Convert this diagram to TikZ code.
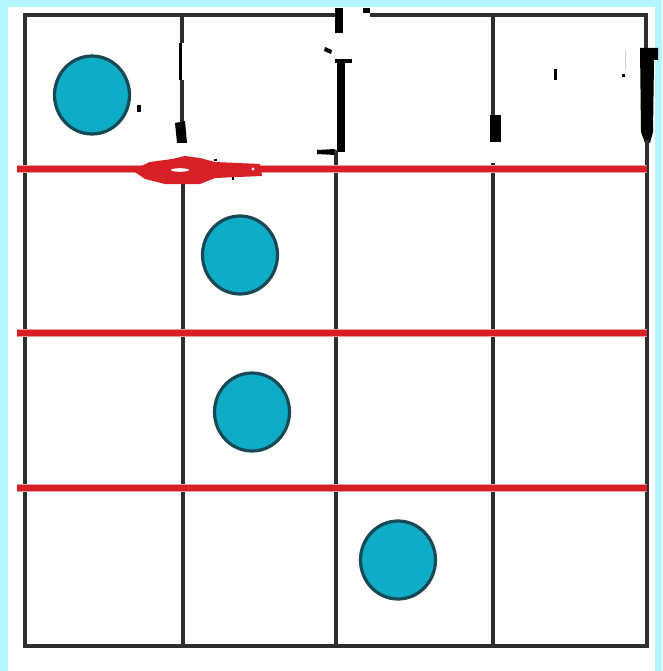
\documentclass[tikz,border=0pt]{standalone}
\usetikzlibrary{shapes.geometric}
\definecolor{cyanbg}{RGB}{180,245,255}
\definecolor{gridc}{RGB}{45,45,45}
\definecolor{redl}{RGB}{215,32,38}
\definecolor{tealfill}{RGB}{15,172,200}
\definecolor{tealedge}{RGB}{22,72,86}
\tikzset{
  gridline/.style={draw=gridc,line width=3.6pt},
  redline/.style={draw=redl,line width=5.5pt},
  redhalo/.style={draw=redl!45,line width=8.5pt},
  ball/.style={ellipse,draw=tealedge,fill=tealfill,line width=3.2pt,minimum width=75pt,minimum height=78pt,inner sep=0pt},
  blot/.style={fill=black},
}
\begin{document}
\begin{tikzpicture}[x=1pt,y=-1pt]
\useasboundingbox (0,0) rectangle (662,671);
\fill[cyanbg] (0,0) rectangle (662,671);
\fill[white] (8,7) rectangle (655,671);
% outer frame and vertical lines
\draw[gridline] (23.2,15) -- (335,15);
\draw[gridline] (370,15) -- (647.8,15);
\draw[gridline] (23.2,646) -- (647.8,646);
\draw[gridline] (25,13.2) -- (25,647.8);
% column 1 line
\draw[gridline] (182,15) -- (182,43);
\draw[draw=black,line width=3pt] (180,43) -- (180,80);
\draw[gridline] (182,80) -- (182,125);
\fill[blot] (175,123) -- (185,121) -- (187,143) -- (177,143) -- cycle;
\draw[gridline] (183,163) -- (183,646);
% column 2 line
\fill[blot] (335,8) rectangle (343,33);
\fill[blot] (363,8) rectangle (370,13);
\fill[blot] (325,47) -- (332,50) -- (331,54) -- (324,51) -- cycle;
\fill[blot] (335,59) rectangle (352,63);
\fill[blot] (337,59) rectangle (345,152);
\fill[blot] (317,150) -- (335,149) -- (335,155) -- (317,154) -- cycle;
\draw[gridline] (336,150) -- (336,646);
% column 3 line
\draw[gridline] (493,15) -- (493,115);
\fill[blot] (490,115) rectangle (501,142);
\draw[gridline] (493,163) -- (493,646);
% right line
\draw[gridline] (646,13.2) -- (646,48);
\fill[blot] (640,48) -- (658,48) -- (658,60) -- (654,60) -- (653,132) -- (650,143) -- (645,143) -- (641,132) -- cycle;
\draw[gridline] (647,140) -- (647,647.8);
% small marks
\fill[blot] (554,69) rectangle (557,80);
\fill[blot] (622,74) rectangle (625,77);
\draw[gray!40,line width=0.6pt] (625,50) -- (625,70);
\fill[blot] (137,105) rectangle (141,112);
% red lines
\foreach \yy/\nm in {169/ra,333/rb,488/rc}{
  \coordinate (\nm L) at (17,\yy);
  \coordinate (\nm R) at (647,\yy);
  \draw[redhalo] (\nm L) -- (\nm R);
  \draw[redline] (\nm L) -- (\nm R);
}
% red blob
\fill[redl] (132,170) -- (150,162) -- (172,159) -- (185,156) -- (200,158) -- (215,162) -- (260,164) -- (262,176) -- (215,178) -- (200,184) -- (165,184) -- (145,179) -- cycle;
\fill[white] (180,170) ellipse (9pt and 1.8pt);
\fill[white] (253,169) circle (1.6pt);
\fill[blot] (214,159) rectangle (217,161);
\fill[blot] (232,177) rectangle (234,180);
% balls
\node[ball] (b1) at (92,95) {};
\node[ball] (b2) at (240,255) {};
\node[ball] (b3) at (252,412) {};
\node[ball] (b4) at (398,560) {};
\end{tikzpicture}
\end{document}
